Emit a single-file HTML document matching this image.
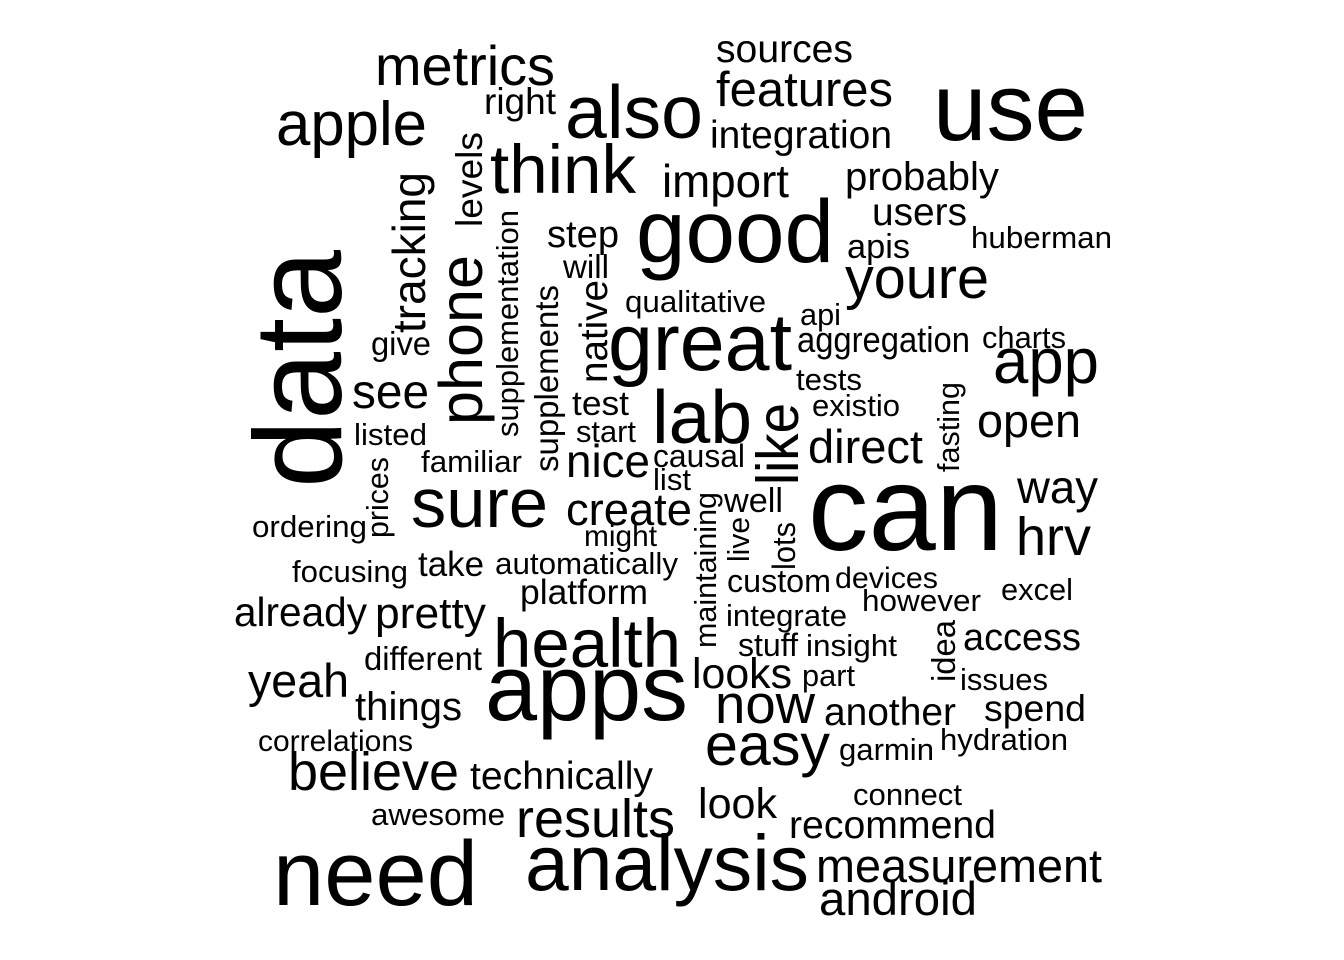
<!DOCTYPE html>
<html><head><meta charset="utf-8"><style>
html,body{margin:0;padding:0;background:#fff;}
svg{display:block;}
text{font-family:"Liberation Sans",Arial,sans-serif;fill:#000;}
</style></head>
<body>
<svg id="cloud" width="1344" height="960" viewBox="0 0 1344 960" xmlns="http://www.w3.org/2000/svg">
<rect width="1344" height="960" fill="#fff"/>
<g id="words"></g>
</svg>
<script>
// word list and relative frequency (font size)
const words = ["metrics","sources","features","use","right","also","apple","integration","think","import","probably","users","huberman","good","apis","step","will","youre","qualitative","api","great","aggregation","charts","give","app","tests","see","test","lab","existio","open","listed","start","direct","familiar","nice","causal","list","can","way","sure","create","well","ordering","hrv","might","focusing","take","automatically","custom","devices","excel","platform","however","already","pretty","integrate","health","access","stuff","insight","different","looks","part","issues","yeah","apps","now","another","spend","things","correlations","hydration","easy","garmin","believe","technically","connect","look","awesome","results","recommend","measurement","need","analysis","android",
"data","tracking","levels","phone","supplementation","supplements","native","like","prices","maintaining","live","lots","fasting","idea"];
const sizes = [56,39,49,96,37,75,62,39,69,46,40,39,31,89,34,38,33,58,31,31,81,36,31,33,64,31,48,34,75,31,47,31,31,47,31,46,32,31,121,46,70,45,34,31,54,30,31,35,31,32,30,31,35,31,41,44,31,69,38,32,31,33,43,31,31,47,94,55,39,37,40,30,31,59,31,54,39,31,43,31,54,39,47,92,79,47,
124,46,37,61,31,33,39,59,31,31,31,32,31,33];
// layout: left x, baseline y, rendered length, rotation
const posX = [375,716,716,933,484,565,276,710,490,662,845,872,971,636,847,547,563,845,625,800,608,797,982,371,993,796,352,572,652,812,977,354,576,808,421,566,653,653,808,1017,411,566,724,252,1016,584,292,418,495,727,835,1001,520,862,234,375,726,493,963,738,806,364,692,802,960,248,485,715,824,984,355,258,940,705,839,288,470,853,698,371,516,789,816,273,525,819,
341,425,482,482,518,558,607,798,388,716,749,795,959,955];
const posY = [85,62,106,140,114,138,145,148,193,197,190,225,248,262,258,247,278,298,312,325,370,352,348,355,383,390,408,415,443,416,437,445,442,463,472,477,467,490,550,503,527,525,512,537,555,546,582,576,574,592,588,600,604,611,626,628,626,667,650,656,656,670,688,686,690,697,720,723,725,721,720,751,750,765,760,790,789,805,818,825,837,838,882,905,890,915,
488,333,227,425,437,472,383,485,538,648,562,570,472,682];
const lens = [180,137,177,155,72,138,151,182,146,127,154,95,141,198,63,72,46,144,141,41,184,173,84,60,106,66,77,57,100,88,104,73,60,115,101,84,92,38,195,81,137,126,59,115,75,73,116,66,183,104,103,72,128,119,133,111,121,188,118,60,91,118,100,53,88,101,203,100,132,102,107,155,128,125,95,171,183,109,79,134,159,207,286,205,284,158,
238,161,95,170,227,187,103,82,81,156,45,48,90,62];
const rots = words.map((w,i)=> i>=86 ? -90 : 0);

const g = document.getElementById('words');
const NS = 'http://www.w3.org/2000/svg';
for (let i = 0; i < words.length; i++) {
  const t = document.createElementNS(NS, 'text');
  
  
  t.setAttribute('x', 0);
  t.setAttribute('y', 0);
  t.setAttribute('font-size', sizes[i]);
  t.setAttribute('textLength', lens[i]);
  t.setAttribute('lengthAdjust', 'spacingAndGlyphs');
  t.setAttribute('transform', 'translate(' + posX[i] + ',' + posY[i] + ') rotate(' + rots[i] + ')');
  t.textContent = words[i];
  g.appendChild(t);
}
</script>
</body></html>
